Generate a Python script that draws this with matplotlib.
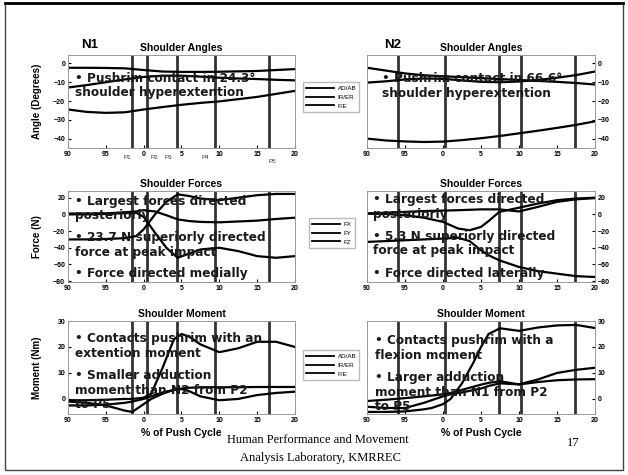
import numpy as np
import matplotlib
matplotlib.use("Agg")
import matplotlib.pyplot as plt
from matplotlib.patches import Rectangle
from matplotlib.lines import Line2D

W, H = 628, 475

# x axis wraps around: 90..100 then 0..20 % of push cycle
xticks = [-10, -5, 0, 5, 10, 15, 20]
xlabels = ["90", "95", "0", "5", "10", "15", "20"]

x_ang = [-10, -7.5, -5, -2.5, 0, 2.5, 5, 7.5, 10, 12.5, 15, 17.5, 20]
n1_ang_adab = [-2.3, -2.3, -2.4, -2.6, -3.5, -4.3, -4.5, -4.5, -4.4, -4.2, -4.0, -3.5, -3.0]
n1_ang_irer = [-12.8, -11.5, -10, -8.5, -7.2, -6.5, -6.5, -7, -7.6, -8, -8.3, -8.7, -9]
n1_ang_fe = [-24.5, -25.8, -26.3, -26, -24.5, -23.2, -22, -21, -20.2, -19, -17.8, -16.2, -14.6]
n2_ang_adab = [-2.3, -3.8, -5.3, -6.3, -6.8, -7.3, -7.8, -8.3, -8.8, -9.3, -9.8, -10.4, -11.2]
n2_ang_irer = [-10.2, -9.5, -8.5, -8, -8.2, -9, -9.8, -10, -9.6, -8.8, -7.6, -6.2, -4.3]
n2_ang_fe = [-40, -41, -41.5, -41.8, -41.6, -40.8, -39.8, -38.6, -37.2, -35.8, -34.3, -32.7, -30.8]

x_f1 = [-10, -7.5, -5, -2.5, -1, 0, 1.5, 3, 4.5, 6, 7.5, 10, 12.5, 15, 17.5, 20]
n1_fx = [1, 1, 1.2, 2.5, 3.5, 5, 3.5, -1, -6, -8, -9, -9.5, -8.5, -7.5, -5.5, -4]
n1_fy = [-30, -30, -29.5, -28.5, -26, -18, 0, 15, 24, 22, 19, 17, 20, 23, 24.5, 24.5]
n1_fz = [0, 0, 0.5, 1.5, 2, -3, -22, -40, -52, -47, -42, -40, -44, -50, -52, -50]

x_f2 = [-10, -7.5, -5, -2.5, 0, 2, 3.5, 5, 6, 7.4, 10, 12.5, 15, 17.5, 20]
n2_fx = [1, 2, 3, 4, 4.5, 5, 5.5, 6, 6, 6, 3.5, 9, 15, 18, 19.5]
n2_fy = [1, 0.5, -1, -4, -9, -17, -19, -15, -8, 3, 8, 13, 17, 19, 20]
n2_fz = [-33, -32, -31, -30, -29, -28, -32, -43, -49, -55, -63, -68, -71, -74, -75]

x_mom = [-10, -7.5, -5, -2.5, -1.5, 0, 1, 2.5, 4, 5, 6, 7.5, 10, 12.5, 15, 17.5, 20]
n1_m_fe = [-0.5, -0.5, -0.3, 0, 0, 0.5, 2, 12, 23, 25, 24, 21, 18, 19.5, 22, 22, 20]
n1_m_adab = [-1, -1.5, -2.5, -4.5, -5, -2, 0, 2, 3.5, 3.8, 3, 1, -0.5, 0, 1.5, 2.3, 2.8]
n1_m_irer = [-2.5, -2.5, -2.2, -1.5, -1, 0, 1, 2.5, 3.5, 4, 4.3, 4.5, 4.5, 4.5, 4.6, 4.6, 4.6]
n2_m_fe = [-5, -5, -4.8, -4, -3.5, -2, 0, 6, 14, 20, 25, 27.2, 26.2, 27.5, 28.3, 28.5, 27.3]
n2_m_adab = [-0.8, -0.3, 0.3, 1, 1.3, 1.8, 2.3, 3.5, 4.7, 5.5, 6.2, 6.8, 5.6, 7.5, 10, 11.2, 12]
n2_m_irer = [-3, -3.5, -3.5, -1.5, -0.5, 1, 1.8, 2.5, 3.4, 4, 5, 6, 5.6, 6.5, 7.2, 7.5, 7.6]

# push phase events P1..P5
n1_events = [-1.6, 0.4, 4.4, 9.4, 16.5]
n2_events = [-5.9, 0.3, 7.4, 10.3, 17.4]
p_labels = ["P1", "P2", "P3", "P4", "P5"]
p_label_x = [-2.1, 1.4, 3.2, 8.2, 17.0]

plt.rcParams["font.family"] = ["Liberation Sans", "DejaVu Sans"]


def box(l, t, r, b):
    return [l / W, 1 - b / H, (r - l) / W, (b - t) / H]


def setup(ax, ylim, yticks, events, right=False):
    ax.set_xlim(-10, 20)
    ax.set_ylim(*ylim)
    ax.set_xticks(xticks)
    ax.set_xticklabels(xlabels)
    ax.set_yticks(yticks)
    ax.tick_params(labelsize=5, length=2, direction="in", pad=2)
    for sp in ax.spines.values():
        sp.set_color("#999999")
        sp.set_linewidth(0.7)
    if right:
        ax.yaxis.tick_right()
    for lab in ax.get_xticklabels() + ax.get_yticklabels():
        lab.set_fontweight("bold")
    for e in events:
        ax.axvline(e, color="#333333", lw=2, zorder=1)


fig = plt.figure(figsize=(W / 100, H / 100), dpi=100)

a1 = fig.add_axes(box(68, 55, 295, 148))
a2 = fig.add_axes(box(367, 55, 595, 148))
f1 = fig.add_axes(box(68, 191, 295, 282))
f2 = fig.add_axes(box(367, 191, 595, 282))
m1 = fig.add_axes(box(68, 321, 295, 414))
m2 = fig.add_axes(box(367, 321, 595, 414))

ang_ticks = [0, -10, -20, -30, -40]
frc_ticks = [20, 0, -20, -40, -60, -80]
mom_ticks = [30, 20, 10, 0]

setup(a1, (-45, 4.5), ang_ticks, n1_events)
setup(a2, (-45, 4.5), ang_ticks, n2_events, right=True)
setup(f1, (-81, 28), frc_ticks, n1_events)
setup(f2, (-81, 28), frc_ticks, n2_events, right=True)
setup(m1, (-5.8, 30), mom_ticks, n1_events)
setup(m2, (-5.8, 30), mom_ticks, n2_events, right=True)

lw = 1.6
for ax, xs, series in [
    (a1, x_ang, [n1_ang_adab, n1_ang_irer, n1_ang_fe]),
    (a2, x_ang, [n2_ang_adab, n2_ang_irer, n2_ang_fe]),
    (f1, x_f1, [n1_fx, n1_fy, n1_fz]),
    (f2, x_f2, [n2_fx, n2_fy, n2_fz]),
    (m1, x_mom, [n1_m_adab, n1_m_irer, n1_m_fe]),
    (m2, x_mom, [n2_m_adab, n2_m_irer, n2_m_fe]),
]:
    for s in series:
        ax.plot(xs, s, color="black", lw=lw, zorder=2)

for ax, t in [(a1, "Shoulder Angles"), (a2, "Shoulder Angles"),
              (f1, "Shoulder Forces"), (f2, "Shoulder Forces"),
              (m1, "Shoulder Moment"), (m2, "Shoulder Moment")]:
    ax.set_title(t, fontsize=7.5, fontweight="bold", pad=3)

for ax, t in [(a1, "Angle (Degrees)"), (f1, "Force (N)"), (m1, "Moment (Nm)")]:
    ax.set_ylabel(t, fontsize=7, fontweight="bold")
    ax.yaxis.set_label_coords(-0.115, 0.5)

for ax in (m1, m2):
    ax.set_xlabel("% of Push Cycle", fontsize=7.5, fontweight="bold", labelpad=3)

# phase labels under the N1 angle plot
for lab, px in zip(p_labels, p_label_x):
    yy = -0.15 if lab == "P5" else -0.1
    a1.text(px, yy, lab, transform=a1.get_xaxis_transform(), fontsize=4.5,
            ha="center", va="center", color="#333333")

fig.text(90 / W, 1 - 45 / H, "N1", fontsize=9.5, weight="bold", ha="center", va="center")
fig.text(393 / W, 1 - 45 / H, "N2", fontsize=9.5, weight="bold", ha="center", va="center")

# legends between the columns
def legend(labels, cx, cy):
    handles = [Line2D([], [], color="black", lw=1.3) for _ in labels]
    fig.legend(handles, labels, loc="center", bbox_to_anchor=(cx / W, 1 - cy / H),
               fontsize=4.5, frameon=True, fancybox=False, edgecolor="#aaaaaa",
               handlelength=4.5, handletextpad=0.6, labelspacing=0.55, borderpad=0.5)

legend(["AD/AB", "IR/ER", "F/E"], 331, 97)
legend(["FX", "FY", "FZ"], 332, 233)
legend(["AD/AB", "IR/ER", "F/E"], 331, 365)

# bullet notes overlaid on the plots
notes = [
    (75, 85.5, "\u2022 Pushrim contact in 24.3\u00b0\nshoulder hyperextention"),
    (382, 86, "\u2022 Pushrim contact in 66.6\u00b0\nshoulder hyperextention"),
    (75, 208.5, "\u2022 Largest forces directed\nposteriorly"),
    (75, 245, "\u2022 23.7 N superiorly directed\nforce at peak impact"),
    (75, 274, "\u2022 Force directed medially"),
    (373, 207, "\u2022 Largest forces directed\nposteriorly"),
    (373, 243.5, "\u2022 5.3 N superiorly directed\nforce at peak impact"),
    (373, 273, "\u2022 Force directed laterally"),
    (75, 346, "\u2022 Contacts pushrim with an\nextention moment"),
    (75, 390, "\u2022 Smaller adduction\nmoment than N2 from P2\nto P5"),
    (375, 348, "\u2022 Contacts pushrim with a\nflexion moment"),
    (375, 392.5, "\u2022 Larger adduction\nmoment than N1 from P2\nto P5"),
]
for px, py, t in notes:
    fig.text(px / W, 1 - py / H, t, family="DejaVu Sans", weight="bold", fontsize=8.75,
             color="#1a1a1a", ha="left", va="center", linespacing=1.15)

# footer
fig.text(318 / W, 1 - 440 / H, "Human Performance and Movement", family="Liberation Serif",
         fontsize=9, ha="center", va="center")
fig.text(320 / W, 1 - 458 / H, "Analysis Laboratory, KMRREC", family="Liberation Serif",
         fontsize=9, ha="center", va="center")
fig.text(573 / W, 1 - 443 / H, "17", family="Liberation Serif", fontsize=9,
         ha="center", va="center")

# slide frame
fig.patches.append(Rectangle((5 / W, 1 - 470 / H), 618 / W, 467 / H, transform=fig.transFigure,
                             fill=False, edgecolor="#444444", lw=1.0))
fig.lines.append(Line2D([5 / W, 623 / W], [1 - 3 / H, 1 - 3 / H], transform=fig.transFigure,
                        color="black", lw=2))

fig.savefig("out.png", dpi=100)
